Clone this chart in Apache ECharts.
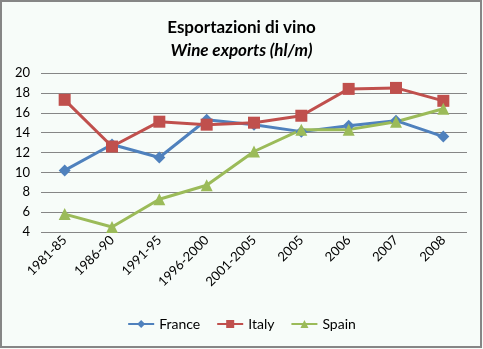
<!DOCTYPE html>
<html><head><meta charset="utf-8">
<script src="https://cdn.jsdelivr.net/npm/echarts@6/dist/echarts.min.js"></script>
<style>html,body{margin:0;padding:0;background:#F7FCF9}#c{width:483px;height:349px}</style>
</head><body><div id="c"></div>
<script>
const categories = ['1981-85','1986-90','1991-95','1996-2000','2001-2005','2005','2006','2007','2008'];
const france = [10.2, 12.8, 11.5, 15.3, 14.8, 14.1, 14.7, 15.2, 13.6];
const italy  = [17.3, 12.6, 15.1, 14.8, 15.0, 15.7, 18.4, 18.5, 17.2];
const spain  = [5.8, 4.5, 7.3, 8.7, 12.1, 14.3, 14.3, 15.1, 16.4];
const yTicks = [4, 20, 2];

const font = 'Lato, "Open Sans", sans-serif';
const chart = echarts.init(document.getElementById('c'));
chart.setOption({
  backgroundColor: '#F7FCF9',
  animation: false,
  title: {
    text: '{b|Esportazioni di vino}\n{i|Wine exports (hl/m)}',
    left: 'center', top: 11,
    textStyle: {
      rich: {
        b: {fontFamily: font, fontWeight: 'bold', fontSize: 17, color: '#000', lineHeight: 23},
        i: {fontFamily: font, fontStyle: 'italic', fontSize: 17, color: '#000', lineHeight: 23}
      }
    }
  },
  graphic: [{type: 'rect', shape: {x: 1, y: 1, width: 480, height: 346}, style: {fill: 'none', stroke: '#868686', lineWidth: 2}, silent: true}],
  grid: {left: 41, right: 16, top: 73, bottom: 117},
  legend: {
    bottom: 13, left: 'center',
    itemWidth: 26, itemHeight: 10, itemGap: 16,
    textStyle: {fontFamily: font, fontSize: 14, color: '#000'},
    data: ['France','Italy','Spain']
  },
  xAxis: {
    type: 'category', data: categories, boundaryGap: true,
    axisLine: {show: false}, axisTick: {show: false},
    axisLabel: {rotate: 45, fontFamily: font, fontSize: 13, color: '#000', margin: 6, interval: 0}
  },
  yAxis: {
    type: 'value', min: yTicks[0], max: yTicks[1], interval: yTicks[2],
    axisLine: {show: false}, axisTick: {show: false},
    axisLabel: {fontFamily: font, fontSize: 13, color: '#000', margin: 11},
    splitLine: {lineStyle: {color: '#868686', width: 1}}
  },
  series: [
    {name: 'France', type: 'line', data: france, symbol: 'diamond', symbolSize: 12,
     lineStyle: {width: 3, color: '#4F81BD'}, itemStyle: {color: '#4F81BD'}},
    {name: 'Italy', type: 'line', data: italy, symbol: 'rect', symbolSize: 12,
     lineStyle: {width: 3, color: '#C0504D'}, itemStyle: {color: '#C0504D'}},
    {name: 'Spain', type: 'line', data: spain, symbol: 'triangle', symbolSize: 12,
     lineStyle: {width: 3, color: '#9BBB59'}, itemStyle: {color: '#9BBB59'}}
  ]
});
</script></body></html>
